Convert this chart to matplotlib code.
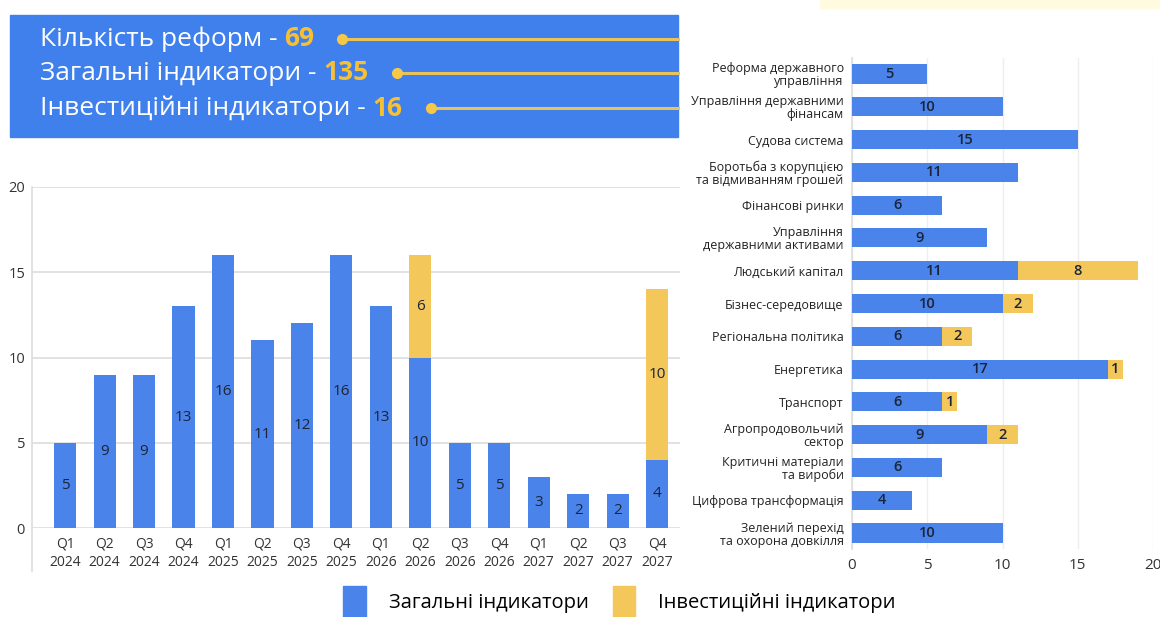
import matplotlib.pyplot as plt
from matplotlib.patches import Rectangle, Patch
from matplotlib.lines import Line2D

plt.rcParams["font.family"] = ["Open Sans", "DejaVu Sans"]

BLUE = "#4A84EA"
YELLOW = "#F3C75A"
BANNER = "#3F80EC"
NUM_YELLOW = "#F7C033"
DARK = "#1B2438"

# summary numbers in the banner
summary_labels = ["Кількість реформ - ", "Загальні індикатори - ", "Інвестиційні індикатори - "]
summary_values = ["69", "135", "16"]

# quarterly chart
quarters = ["Q1\n2024", "Q2\n2024", "Q3\n2024", "Q4\n2024",
            "Q1\n2025", "Q2\n2025", "Q3\n2025", "Q4\n2025",
            "Q1\n2026", "Q2\n2026", "Q3\n2026", "Q4\n2026",
            "Q1\n2027", "Q2\n2027", "Q3\n2027", "Q4\n2027"]
q_general = [5, 9, 9, 13, 16, 11, 12, 16, 13, 10, 5, 5, 3, 2, 2, 4]
q_invest = [0, 0, 0, 0, 0, 0, 0, 0, 0, 6, 0, 0, 0, 0, 0, 10]

# sector chart
sectors = ["Реформа державного\nуправління",
           "Управління державними\nфінансам",
           "Судова система",
           "Боротьба з корупцією\nта відмиванням грошей",
           "Фінансові ринки",
           "Управління\nдержавними активами",
           "Людський капітал",
           "Бізнес-середовище",
           "Регіональна політика",
           "Енергетика",
           "Транспорт",
           "Агропродовольчий\nсектор",
           "Критичні матеріали\nта вироби",
           "Цифрова трансформація",
           "Зелений перехід\nта охорона довкілля"]
s_general = [5, 10, 15, 11, 6, 9, 11, 10, 6, 17, 6, 9, 6, 4, 10]
s_invest = [0, 0, 0, 0, 0, 0, 8, 2, 2, 1, 1, 2, 0, 0, 0]

legend_labels = ["Загальні індикатори", "Інвестиційні індикатори"]

W, H = 1160, 617
fig = plt.figure(figsize=(11.6, 6.17), dpi=100)
fig.patch.set_facecolor("white")

# faint strip at the top right
fig.patches.append(Rectangle((820 / W, 1 - 8 / H), 340 / W, 8 / H,
                             transform=fig.transFigure, color="#FFFAE0", zorder=0))

# banner
fig.patches.append(Rectangle((10 / W, 1 - 137 / H), 668 / W, 122 / H,
                             transform=fig.transFigure, color=BANNER, zorder=1))

renderer = fig.canvas.get_renderer()
row_y = [39, 73, 108]
for lab, val, yy in zip(summary_labels, summary_values, row_y):
    yf = 1 - yy / H
    t = fig.text(40 / W, yf, lab, color="white", fontsize=19, va="center",
                 ha="left", zorder=3)
    bb = t.get_window_extent(renderer)
    t2 = fig.text(bb.x1 / W, yf, val, color=NUM_YELLOW, fontsize=19,
                  fontweight="bold", va="center", ha="left", zorder=3)
    bb2 = t2.get_window_extent(renderer)
    x0 = bb2.x1 + 28
    fig.lines.append(Line2D([x0 / W, 678 / W], [yf, yf], transform=fig.transFigure,
                            color="#E9C25A", lw=2.2, zorder=3))
    fig.lines.append(Line2D([x0 / W], [yf], transform=fig.transFigure, marker="o",
                            ms=7, color="#F5C84A", zorder=4))

# ---- quarterly chart ----
ax = fig.add_axes([32 / W, (H - 528) / H, (680 - 32) / W, 341 / H])
x = list(range(len(quarters)))
ax.bar(x, q_general, width=0.56, color=BLUE, zorder=3)
ax.bar(x, q_invest, width=0.56, bottom=q_general, color=YELLOW, zorder=3)
for i, (g, v) in enumerate(zip(q_general, q_invest)):
    ax.text(i, g / 2, str(g), ha="center", va="center", fontsize=11, color=DARK, zorder=4)
    if v:
        ax.text(i, g + v / 2, str(v), ha="center", va="center", fontsize=11,
                color=DARK, zorder=4)
ax.set_xlim(-0.84, 15.58)
ax.set_ylim(0, 20)
ax.set_yticks([0, 5, 10, 15, 20])
ax.set_xticks(x)
ax.set_xticklabels(quarters, fontsize=10, color="#333333", linespacing=1.3)
ax.tick_params(axis="both", length=0, labelsize=10, colors="#333333")
ax.tick_params(axis="y", pad=5)
ax.tick_params(axis="x", pad=6)
for lbl in ax.get_yticklabels():
    lbl.set_fontsize(10.5)
ax.grid(axis="y", color="#DDDDDD", lw=1.2, zorder=0)
for s in ["top", "right", "bottom", "left"]:
    ax.spines[s].set_visible(False)
ax.add_line(Line2D([0, 0], [-0.125, 1.0], transform=ax.transAxes, color="#DDDDDD",
                   lw=1.2, clip_on=False))

# ---- sector chart ----
ax2 = fig.add_axes([852 / W, (H - 549.4) / H, 301 / W, (549.4 - 57.6) / H])
y = list(range(len(sectors)))
ax2.barh(y, s_general, height=0.58, color=BLUE, zorder=3)
ax2.barh(y, s_invest, height=0.58, left=s_general, color=YELLOW, zorder=3)
for i, (g, v) in enumerate(zip(s_general, s_invest)):
    ax2.text(g / 2, i, str(g), ha="center", va="center", fontsize=10.5, color=DARK,
             fontweight="semibold", zorder=4)
    if v:
        ax2.text(g + v / 2, i, str(v), ha="center", va="center", fontsize=10.5,
                 color=DARK, fontweight="semibold", zorder=4)
ax2.set_ylim(len(sectors) - 0.5, -0.5)
ax2.set_xlim(0, 20)
ax2.set_xticks([0, 5, 10, 15, 20])
ax2.set_yticks(y)
ax2.set_yticklabels(sectors, fontsize=9, color="#222222", linespacing=1.0)
ax2.tick_params(axis="both", length=0)
ax2.tick_params(axis="x", labelsize=11, colors="#333333", pad=6)
ax2.tick_params(axis="y", pad=6)
ax2.grid(axis="x", color="#EEEEEE", lw=1.0, zorder=0)
for s in ["top", "right", "bottom"]:
    ax2.spines[s].set_visible(False)
ax2.spines["left"].set_color("#DDDDDD")
ax2.spines["left"].set_linewidth(1.2)

# ---- legend ----
handles = [Patch(color=BLUE), Patch(color=YELLOW)]
fig.legend(handles, legend_labels, loc="lower center", bbox_to_anchor=(0.534, -0.03),
           ncol=2, frameon=False, fontsize=14.5, handlelength=1.1, handleheight=2.0,
           handletextpad=1.15, columnspacing=1.2)

fig.savefig("out.png", dpi=100)
